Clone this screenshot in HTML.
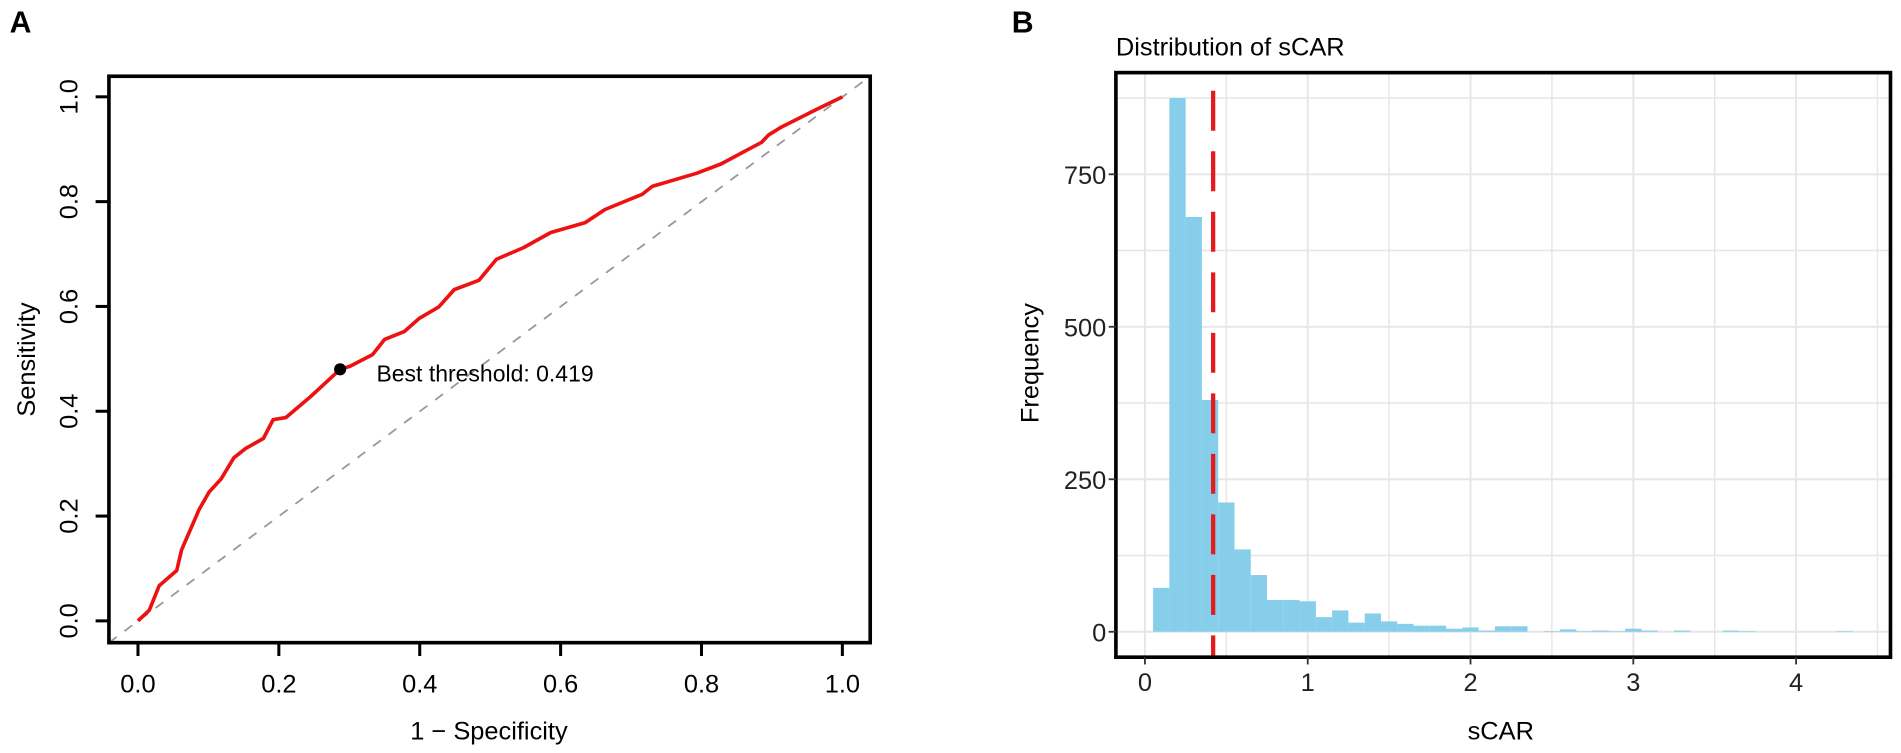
<!DOCTYPE html>
<html><head><meta charset="utf-8"><style>
html,body{margin:0;padding:0;background:#fff;}
svg{display:block;font-family:"Liberation Sans",Arial,sans-serif;}
</style></head><body>
<svg id="fig" width="1901" height="753" viewBox="0 0 1901 753" xmlns="http://www.w3.org/2000/svg">
<g transform="scale(1.2103)">
<text x="8" y="27" font-size="25" font-weight="bold">A</text>
<text x="836" y="27" font-size="25" font-weight="bold">B</text>
<g id="pa"></g>
<g id="pb"></g>
</g>
</svg>
<script>
// ROC data
const rocFpr = [0,0.016,0.03,0.055,0.062,0.087,0.101,0.118,0.136,0.153,0.178,0.192,0.21,0.245,0.287,0.301,0.333,0.35,0.378,0.399,0.427,0.449,0.484,0.509,0.547,0.586,0.635,0.663,0.716,0.73,0.793,0.828,0.864,0.885,0.895,0.913,0.962,1];
const rocTpr = [0,0.02,0.067,0.096,0.136,0.213,0.246,0.271,0.311,0.329,0.348,0.384,0.388,0.428,0.48,0.486,0.508,0.537,0.552,0.577,0.599,0.632,0.65,0.69,0.712,0.741,0.76,0.785,0.814,0.829,0.854,0.872,0.898,0.913,0.927,0.942,0.975,1];
const bestPoint = [0.287,0.48];
const bestLabel = "Best threshold: 0.419";
const rocTicks = [0,0.2,0.4,0.6,0.8,1.0];
const rocTickLabels = ["0.0","0.2","0.4","0.6","0.8","1.0"];
// Histogram data
const binStarts = [0.05,0.15,0.25,0.35,0.45,0.55,0.65,0.75,0.85,0.95,1.05,1.15,1.25,1.35,1.45,1.55,1.65,1.75,1.85,1.95,2.05,2.15,2.25,2.35,2.45,2.55,2.65,2.75,2.85,2.95,3.05,3.15,3.25,3.35,3.45,3.55,3.65,3.75,3.85,3.95,4.05,4.15,4.25];
const binCounts = [72,875,680,380,212,135,93,52,52,50,24,35,15,30,17,13,10,10,5,7,2,9,9,0,1,4,1,2,1,5,2,0,2,0,0,2,1,0,0,0,0,0,1];
const binWidth = 0.1;
const thresholdValue = 0.419;
const histXTicks = [0,1,2,3,4];
const histYTicks = [0,250,500,750];

const NS="http://www.w3.org/2000/svg";
function mk(parent,tag,attrs,text){const e=document.createElementNS(NS,tag);for(const k in attrs)e.setAttribute(k,attrs[k]);if(text!==undefined)e.textContent=text;parent.appendChild(e);return e;}

// Panel A
const pa=document.getElementById('pa');
const ax=v=>114+v*582, ay=v=>513-v*433;
mk(pa,'line',{x1:90,y1:531,x2:719,y2:63,stroke:'#999','stroke-width':1.5,'stroke-dasharray':'8 8'});
let d=rocFpr.map((f,i)=>(i?'L':'M')+ax(f).toFixed(1)+' '+ay(rocTpr[i]).toFixed(1)).join(' ');
const roc=mk(pa,'path',{d:d,fill:'none',stroke:'#ee1111','stroke-width':3,'stroke-linejoin':'round'});


const bp=mk(pa,'circle',{cx:ax(bestPoint[0]),cy:ay(bestPoint[1]),r:5,fill:'#000'});


const bl=mk(pa,'text',{x:ax(bestPoint[0])+30,y:ay(bestPoint[1])+10,'font-size':19},bestLabel);


mk(pa,'rect',{x:90,y:63,width:629,height:468,fill:'none',stroke:'#000','stroke-width':3});
rocTicks.forEach((t,i)=>{
  mk(pa,'line',{x1:ax(t),y1:531,x2:ax(t),y2:542,stroke:'#000','stroke-width':2.5});
  const xl=mk(pa,'text',{x:ax(t),y:572,'font-size':21,'text-anchor':'middle'},rocTickLabels[i]);
  
  
  mk(pa,'line',{x1:79,y1:ay(t),x2:90,y2:ay(t),stroke:'#000','stroke-width':2.5});
  const yl=mk(pa,'text',{x:0,y:0,'font-size':21,'text-anchor':'middle',transform:`translate(64 ${ay(t)}) rotate(-90)`},rocTickLabels[i]);
  
  
});
const xt=mk(pa,'text',{x:404,y:611,'font-size':21,'text-anchor':'middle'},'1 − Specificity');


const yt=mk(pa,'text',{x:0,y:0,'font-size':21,'text-anchor':'middle',transform:'translate(29 297) rotate(-90)'},'Sensitivity');



// Panel B
const pb=document.getElementById('pb');
const bx=v=>946+v*134.5, by=v=>522-v*0.504;
const L=922,R=1562,T=60,B=543;
for(let v=0;v<=4.5;v+=0.5){ if(bx(v)>L&&bx(v)<R) mk(pb,'line',{x1:bx(v),y1:T,x2:bx(v),y2:B,stroke:'#e6e6e6','stroke-width':v%1===0?1.6:1.2}); }
for(let v=0;v<=875;v+=125){ mk(pb,'line',{x1:L,y1:by(v),x2:R,y2:by(v),stroke:'#e6e6e6','stroke-width':v%250===0?1.6:1.2}); }
binStarts.forEach((s,i)=>{
  if(binCounts[i]<=0)return;
  const r=mk(pb,'rect',{x:bx(s),y:by(binCounts[i]),width:bx(s+binWidth)-bx(s),height:by(0)-by(binCounts[i]),fill:'#87ceeb'});
  
  
});
const tl=mk(pb,'line',{x1:bx(thresholdValue),y1:75,x2:bx(thresholdValue),y2:B,stroke:'#e41a1c','stroke-width':3.5,'stroke-dasharray':'33 17'});


mk(pb,'rect',{x:L,y:T,width:R-L,height:B-T,fill:'none',stroke:'#000','stroke-width':3});
histXTicks.forEach(t=>{
  mk(pb,'line',{x1:bx(t),y1:B,x2:bx(t),y2:B+6,stroke:'#333','stroke-width':1.5});
  const l=mk(pb,'text',{x:bx(t),y:571,'font-size':21,'text-anchor':'middle','fill':'#222'},String(t));
  
  
});
histYTicks.forEach(t=>{
  mk(pb,'line',{x1:L-6,y1:by(t),x2:L,y2:by(t),stroke:'#333','stroke-width':1.5});
  const l=mk(pb,'text',{x:914,y:by(t)+8,'font-size':21,'text-anchor':'end','fill':'#222'},String(t));
  
  
});
const ht=mk(pb,'text',{x:922,y:46,'font-size':21},'Distribution of sCAR');


const hx=mk(pb,'text',{x:1240,y:611,'font-size':21,'text-anchor':'middle'},'sCAR');


const hy=mk(pb,'text',{x:0,y:0,'font-size':21,'text-anchor':'middle',transform:'translate(858 300) rotate(-90)'},'Frequency');


</script>
</body></html>
